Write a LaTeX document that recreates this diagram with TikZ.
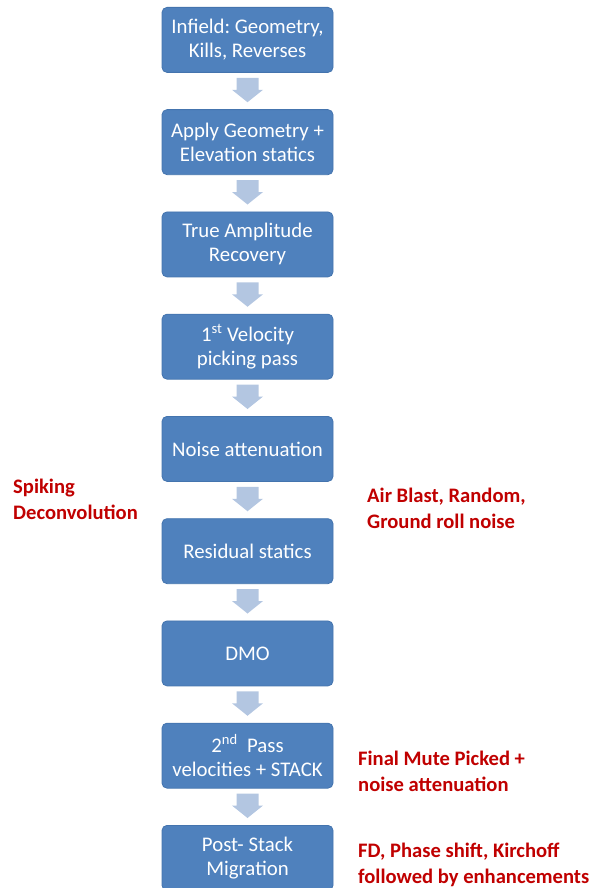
\documentclass[tikz,border=0pt]{standalone}
\usepackage{fontspec}
\setmainfont{Carlito}
\usetikzlibrary{calc}
\frenchspacing
\definecolor{boxblue}{HTML}{4F81BD}
\definecolor{boxedge}{HTML}{4474AE}
\definecolor{arrowblue}{HTML}{B3C6E1}
\definecolor{notered}{HTML}{C00000}
\tikzset{
  stepbox/.style={draw=boxedge, line width=0.8pt, fill=boxblue, rounded corners=5pt,
    minimum width=171pt, minimum height=65pt, inner sep=2pt, align=center,
    text=white, font=\fontsize{20.8}{24}\selectfont, anchor=north},
  note/.style={text=notered, font=\bfseries\fontsize{20.6}{26}\selectfont, align=left, anchor=north west, inner sep=0pt},
}
\newcommand{\blockarrow}[2]{%
  \fill[arrowblue] ($(#1.south)+(-11,5)$) -- ($(#1.south)+(11,5)$) -- ($(#1.south)+(11,17)$)
    -- ($(#1.south)+(15.5,17)$) -- ($(#2.north)+(0,-7)$) -- ($(#1.south)+(-15.5,17)$)
    -- ($(#1.south)+(-11,17)$) -- cycle;}
\begin{document}
\begin{tikzpicture}[x=1pt,y=-1pt]
\useasboundingbox (0,0) rectangle (593,888);
\begin{scope}
\clip (0,0) rectangle (593,888);
\node[stepbox] (b1) at (247.5,7) {Infield: Geometry,\\Kills, Reverses};
\node[stepbox] (b2) at (247.5,109.25) {Apply Geometry +\\Elevation statics};
\node[stepbox] (b3) at (247.5,211.5) {True Amplitude\\Recovery};
\node[stepbox] (b4) at (247.5,313.75) {1\textsuperscript{st} Velocity\\picking pass};
\node[stepbox] (b5) at (247.5,416) {Noise attenuation};
\node[stepbox] (b6) at (247.5,518.25) {Residual statics};
\node[stepbox] (b7) at (247.5,620.5) {DMO};
\node[stepbox] (b8) at (247.5,722.75) {2\textsuperscript{nd}\ \ Pass\\velocities + STACK};
\node[stepbox] (b9) at (247.5,825) {Post- Stack\\Migration};
\blockarrow{b1}{b2}
\blockarrow{b2}{b3}
\blockarrow{b3}{b4}
\blockarrow{b4}{b5}
\blockarrow{b5}{b6}
\blockarrow{b6}{b7}
\blockarrow{b7}{b8}
\blockarrow{b8}{b9}
\end{scope}
\node[note] (n1) at (13,479) {Spiking\\Deconvolution};
\node[note] (n2) at (367,488) {Air Blast, Random,\\Ground roll noise};
\node[note] (n3) at (358,750.5) {Final Mute Picked +\\noise attenuation};
\node[note] (n4) at (358,843) {FD, Phase shift, Kirchoff\\followed by enhancements};
\end{tikzpicture}
\end{document}
